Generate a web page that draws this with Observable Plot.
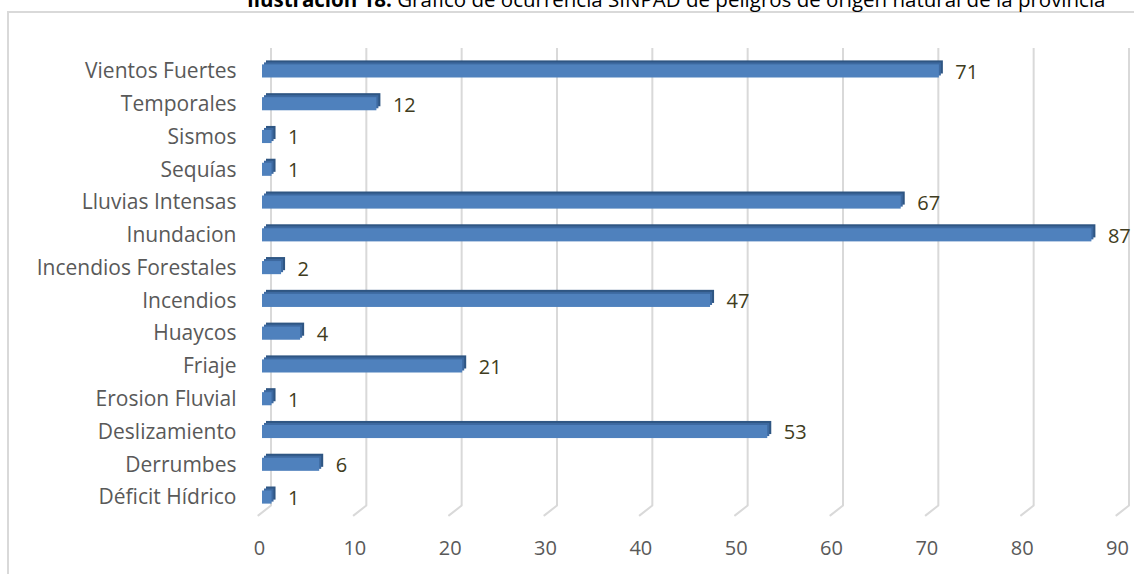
<!DOCTYPE html>
<html>
<head>
<meta charset="utf-8">
<script src="https://cdn.jsdelivr.net/npm/d3@7"></script>
<script src="https://cdn.jsdelivr.net/npm/@observablehq/plot@0.6"></script>
<style>
  html, body { margin: 0; padding: 0; background: #fff; overflow: hidden; }
  #wrap { position: relative; width: 1134px; height: 574px; font-family: "Open Sans", sans-serif; }
  #chart { position: absolute; left: 0; top: 0; }
  #frame { position: absolute; left: 7px; top: 11px; width: 1200px; height: 700px;
           border-left: 2px solid #d9d9d9; border-top: 2px solid #d9d9d9; }
  #title { position: absolute; left: 247px; top: -11px; font-size: 20.5px; line-height: 20.5px;
           white-space: nowrap; color: #000; }
</style>
</head>
<body>
<div id="wrap">
  <div id="frame"></div>
  <div id="chart"></div>
  <div id="title"><b>Ilustración 18.</b> Gráfico de ocurrencia SINPAD de peligros de origen natural de la provincia</div>
</div>
<script>
const categories = ["Vientos Fuertes", "Temporales", "Sismos", "Sequías", "Lluvias Intensas", "Inundacion",
  "Incendios Forestales", "Incendios", "Huaycos", "Friaje", "Erosion Fluvial", "Deslizamiento", "Derrumbes", "Déficit Hídrico"];
const values = [71, 12, 1, 1, 67, 87, 2, 47, 4, 21, 1, 53, 6, 1];
const xTicks = [0, 10, 20, 30, 40, 50, 60, 70, 80, 90];

const data = categories.map((c, i) => ({cat: c, value: values[i]}));

const lineShape = {draw(context, l) { context.moveTo(0, 0); context.lineTo(0, -l); }};

const plot = Plot.plot({
  width: 1134,
  height: 574,
  marginLeft: 262,
  marginRight: 14,
  marginTop: 48,
  marginBottom: 54,
  style: {background: "transparent", fontFamily: "'Open Sans', sans-serif", fontSize: "20px", color: "#595959"},
  x: {domain: [0, 90]},
  y: {domain: categories, paddingInner: 0.6, paddingOuter: 0.5, round: false},
  marks: [
    Plot.ruleX(xTicks, {x: d => d, dx: 8.5, stroke: "#d9d9d9", strokeWidth: 2, insetBottom: 15}),
    Plot.vector(xTicks, {x: d => d, frameAnchor: "bottom", dx: 8.5, dy: -15, length: 16, rotate: 232,
      anchor: "start", shape: lineShape, stroke: "#d9d9d9", strokeWidth: 2}),
    Plot.barX(data, {x: "value", y: "cat", dx: 4, dy: -4, fill: "#2f5683"}),
    Plot.barX(data, {x: "value", y: "cat", dx: 2, dy: -2, fill: "#3d69a0"}),
    Plot.barX(data, {x: "value", y: "cat", fill: "#4f81bd"}),
    Plot.text(data, {x: "value", y: "cat", text: d => String(d.value), dx: 16, dy: 1, textAnchor: "start",
      fill: "#403c20", fontSize: 20}),
    Plot.axisY({tickSize: 0, tickPadding: 26, fontSize: 21, label: null}),
    Plot.axisX({ticks: xTicks, tickSize: 0, tickPadding: 20, dx: -3, fontSize: 20, label: null, tickFormat: d => String(d)})
  ]
});
document.getElementById("chart").appendChild(plot);
</script>
</body>
</html>
